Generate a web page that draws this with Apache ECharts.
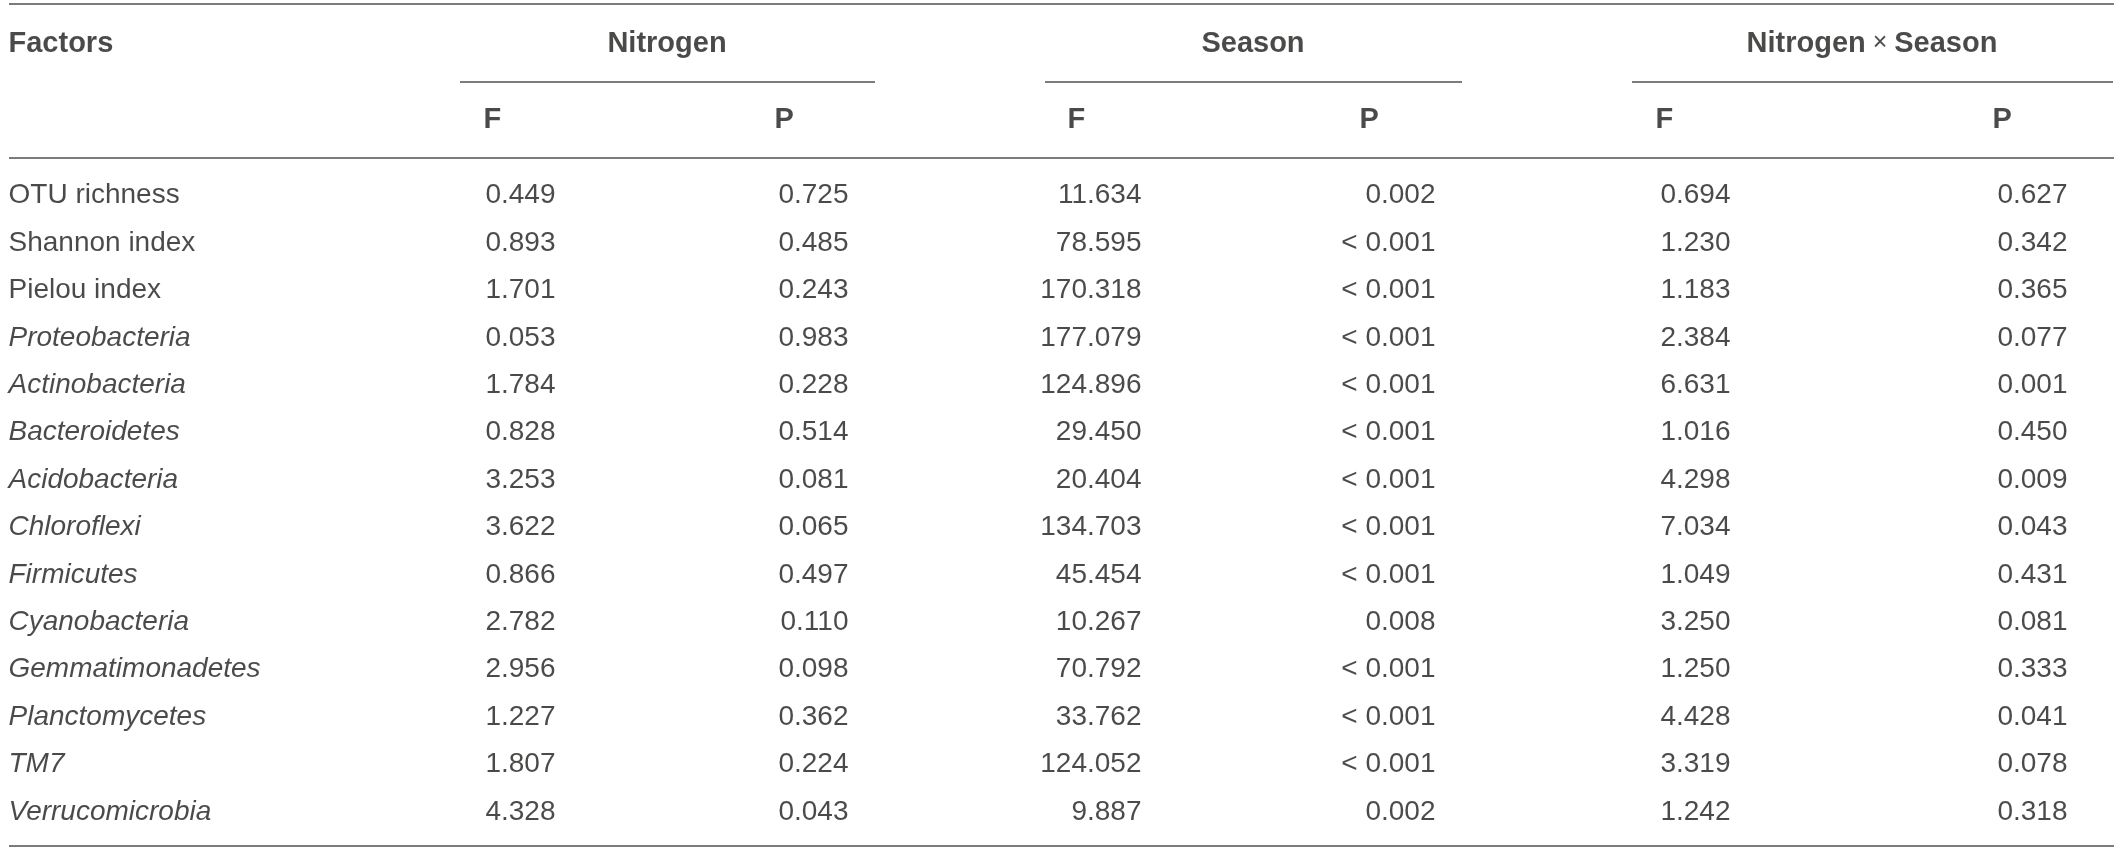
<!DOCTYPE html>
<html>
<head>
<meta charset="utf-8">
<script src="https://cdn.jsdelivr.net/npm/echarts@6/dist/echarts.min.js"></script>
<style>
html,body{margin:0;padding:0;background:#fff;}
#chart{width:2120px;height:851px;}
</style>
</head>
<body>
<div id="chart"></div>
<script>
// ---------- data ----------
const factors = ['OTU richness','Shannon index','Pielou index','Proteobacteria','Actinobacteria','Bacteroidetes','Acidobacteria','Chloroflexi','Firmicutes','Cyanobacteria','Gemmatimonadetes','Planctomycetes','TM7','Verrucomicrobia'];
const italicFactors = ['Proteobacteria','Actinobacteria','Bacteroidetes','Acidobacteria','Chloroflexi','Firmicutes','Cyanobacteria','Gemmatimonadetes','Planctomycetes','TM7','Verrucomicrobia'];
const groupTitles = ['Nitrogen','Season','Nitrogen × Season'];
const subTitles = ['F','P','F','P','F','P'];
const firstHeader = 'Factors';
const nitrogenF = ['0.449','0.893','1.701','0.053','1.784','0.828','3.253','3.622','0.866','2.782','2.956','1.227','1.807','4.328'];
const nitrogenP = ['0.725','0.485','0.243','0.983','0.228','0.514','0.081','0.065','0.497','0.110','0.098','0.362','0.224','0.043'];
const seasonF = ['11.634','78.595','170.318','177.079','124.896','29.450','20.404','134.703','45.454','10.267','70.792','33.762','124.052','9.887'];
const seasonP = ['0.002','< 0.001','< 0.001','< 0.001','< 0.001','< 0.001','< 0.001','< 0.001','< 0.001','0.008','< 0.001','< 0.001','< 0.001','0.002'];
const interF = ['0.694','1.230','1.183','2.384','6.631','1.016','4.298','7.034','1.049','3.250','1.250','4.428','3.319','1.242'];
const interP = ['0.627','0.342','0.365','0.077','0.001','0.450','0.009','0.043','0.431','0.081','0.333','0.041','0.078','0.318'];
const valueColumns = [nitrogenF, nitrogenP, seasonF, seasonP, interF, interP];
const headerRows = ['group','sub'];

// ---------- layout ----------
const L = {
  W: 2120,
  ruleLeft: 9, ruleRight: 2114,
  ruleTop: 4, ruleHead: 158, ruleBottom: 846,
  groupRuleY: 82,
  headTop: 6, headHeight: 152,
  bodyTop: 172.5, bodyHeight: 663.6,
  labelX: 9,
  valueRight: [556, 849, 1142, 1436, 1731, 2068],
  headLeft: [484, 775, 1068, 1360, 1656, 1993],
  groupSpan: [[460, 875], [1045, 1462], [1632, 2113]]
};
const FONT = '"Liberation Sans", Arial, Helvetica, sans-serif';
const TXT = '#1d1d1b';
const RULE = '#7c7c7c';
const bodySize = 28, headSize = 29;

const chart = echarts.init(document.getElementById('chart'), null, {renderer: 'canvas'});

function textSeries(name, gridIdx, data, labelOpt) {
  return {
    type: 'scatter', name: name, xAxisIndex: gridIdx, yAxisIndex: gridIdx,
    symbolSize: 1, silent: true, animation: false,
    itemStyle: {color: 'rgba(0,0,0,0)'},
    label: Object.assign({show: true, position: [0, 0], verticalAlign: 'middle',
      fontFamily: FONT, color: TXT}, labelOpt),
    data: data
  };
}

const series = [];
// factor names
series.push(textSeries('factors', 1, factors.map(f => ({
  value: [L.labelX, f],
  label: {fontStyle: italicFactors.includes(f) ? 'italic' : 'normal'}
})), {align: 'left', fontSize: bodySize, formatter: p => p.data.value[1]}));
// value columns
valueColumns.forEach((col, j) => {
  series.push(textSeries('col' + j, 1, col.map((v, i) => ({value: [L.valueRight[j], factors[i]], text: v})),
    {align: 'right', fontSize: bodySize, formatter: p => p.data.text}));
});
// header: Factors
series.push(textSeries('hFactors', 0, [{value: [L.labelX, 'group'], text: firstHeader}],
  {align: 'left', fontSize: headSize, fontWeight: 'bold', formatter: p => p.data.text}));
// header groups
series.push(textSeries('hGroups', 0, groupTitles.map((g, k) => ({
  value: [(L.groupSpan[k][0] + L.groupSpan[k][1]) / 2, 'group'], text: g})),
  {align: 'center', fontSize: headSize, fontWeight: 'bold',
   formatter: p => p.data.text.split(' × ').map(s => '{b|' + s + '}').join('{x| × }'),
   rich: {
     b: {fontFamily: FONT, fontSize: headSize, fontWeight: 'bold', color: TXT},
     x: {fontFamily: FONT, fontSize: headSize - 4, fontWeight: 'normal', color: TXT}
   }}));
// header F / P
series.push(textSeries('hSub', 0, subTitles.map((s, j) => ({value: [L.headLeft[j], 'sub'], text: s})),
  {align: 'left', fontSize: headSize, fontWeight: 'bold', formatter: p => p.data.text}));

// rules
const graphics = [];
function hline(x1, x2, y) {
  graphics.push({type: 'line', silent: true, shape: {x1: x1, y1: y, x2: x2, y2: y},
    style: {stroke: RULE, lineWidth: 2}});
}
hline(L.ruleLeft, L.ruleRight, L.ruleTop);
hline(L.ruleLeft, L.ruleRight, L.ruleHead);
hline(L.ruleLeft, L.ruleRight, L.ruleBottom);
L.groupSpan.forEach(s => hline(s[0], s[1], L.groupRuleY));

const xAxisBase = {type: 'value', min: 0, max: L.W, show: false};
chart.setOption({
  animation: false,
  backgroundColor: '#ffffff',
  grid: [
    {left: 0, right: 0, top: L.headTop, height: L.headHeight},
    {left: 0, right: 0, top: L.bodyTop, height: L.bodyHeight}
  ],
  xAxis: [Object.assign({gridIndex: 0}, xAxisBase), Object.assign({gridIndex: 1}, xAxisBase)],
  yAxis: [
    {type: 'category', gridIndex: 0, data: headerRows, inverse: true, show: false},
    {type: 'category', gridIndex: 1, data: factors, inverse: true, show: false}
  ],
  graphic: graphics,
  series: series
});
</script>
</body>
</html>
